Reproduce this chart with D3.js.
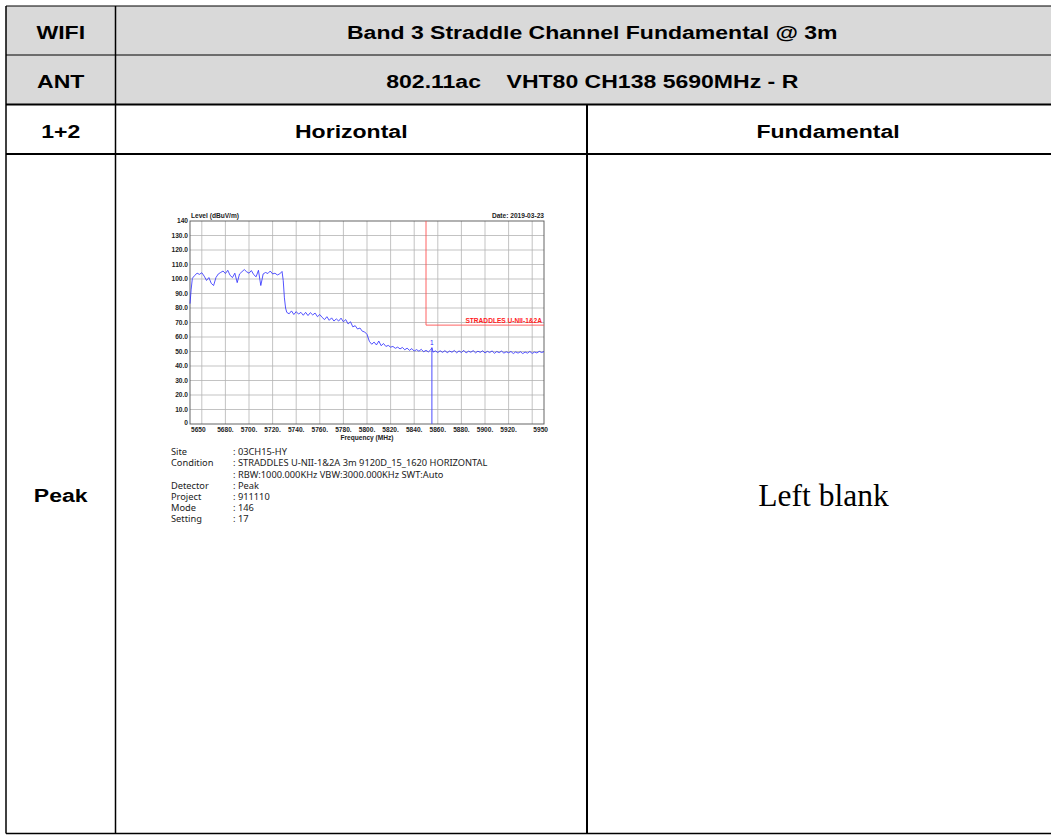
<!DOCTYPE html>
<html>
<head>
<meta charset="utf-8">
<script src="https://cdn.jsdelivr.net/npm/d3@7"></script>
<style>
  body { margin: 0; background: #fff; }
  svg { display: block; }
</style>
</head>
<body>
<div id="page"></div>
<script>
// table content
var headRows = [
  ["WIFI", "Band 3 Straddle Channel Fundamental @ 3m"],
  ["ANT", "802.11ac\u00a0\u00a0\u00a0\u00a0VHT80 CH138 5690MHz - R"]
]
var colHeads = ["1+2", "Horizontal", "Fundamental"]
var rowLabel = "Peak"
var blankText = "Left blank"

// spectrum trace (MHz, dBuV/m)
var freq = [5650, 5651, 5652, 5654, 5656, 5658, 5660, 5662, 5664, 5666, 5668, 5670, 5672, 5674, 5676, 5678,
  5680, 5682, 5684, 5686, 5688, 5690, 5692, 5694, 5696, 5698, 5700, 5702, 5704, 5706, 5708, 5710,
  5712, 5714, 5716, 5718, 5720, 5722, 5724, 5726, 5728, 5729, 5730, 5731, 5732, 5734, 5736, 5738,
  5740, 5742, 5744, 5746, 5748, 5750, 5752, 5754, 5756, 5758, 5760, 5762, 5764, 5766, 5768, 5770,
  5772, 5774, 5776, 5778, 5780, 5782, 5784, 5786, 5788, 5790, 5792, 5794, 5796, 5798, 5800, 5802,
  5804, 5806, 5808, 5810, 5812, 5814, 5816, 5818, 5820, 5822, 5824, 5826, 5828, 5830, 5832, 5834,
  5836, 5838, 5840, 5842, 5844, 5846, 5848, 5850, 5852, 5854, 5855, 5856, 5858, 5860, 5862, 5864,
  5866, 5868, 5870, 5872, 5874, 5876, 5878, 5880, 5882, 5884, 5886, 5888, 5890, 5892, 5894, 5896,
  5898, 5900, 5902, 5904, 5906, 5908, 5910, 5912, 5914, 5916, 5918, 5920, 5922, 5924, 5926, 5928,
  5930, 5932, 5934, 5936, 5938, 5940, 5942, 5944, 5946, 5948, 5950]
var level = [83, 93, 100.5, 102.5, 104, 103.2, 104.3, 102, 99, 101, 97, 95.5, 101, 103.5, 104.5, 105.5,
  103.8, 106, 102.5, 101, 104, 97.5, 103.5, 105, 106.5, 105, 104, 105.8, 103, 101.5, 106, 95.5,
  103.5, 104.5, 103.8, 105.5, 103.5, 104, 102.8, 103.5, 105.2, 99, 87, 80, 77, 76, 78, 75.5,
  77.5, 75.8, 77, 75, 77, 74.8, 76.8, 75.2, 76.5, 74, 75.5, 73.5, 72, 74, 71.5, 73.2,
  71, 72.5, 71, 73, 70.5, 72, 69, 70.5, 67, 67.8, 65.5, 66.2, 64, 63.5, 61.8, 57,
  55, 56.5, 54.5, 57.2, 54, 55.5, 53.5, 54.2, 53, 53.5, 52.2, 53, 51.8, 52.8, 51.2, 52.3,
  50.8, 52, 50.3, 51.3, 50.2, 51.5, 49.8, 50.8, 49.7, 51.2, 52.6, 49.6, 50.4, 49.3, 50.5, 49.4,
  50.6, 49.2, 50.3, 49.5, 50.7, 49.1, 50.4, 49.3, 50.8, 49, 50.2, 49.5, 50.6, 49.1, 50.2, 49.4,
  50.5, 49, 50.1, 49.3, 50.4, 48.8, 50, 49.2, 50.3, 48.9, 49.8, 49.1, 50, 48.6, 49.7, 48.9,
  49.8, 48.6, 49.6, 48.9, 50, 48.7, 49.6, 49, 50.1, 49.3, 49.9]

var yTicks = [10, 20, 30, 40, 50, 60, 70, 80, 90, 100, 110, 120, 130]
var xGrid = [5660, 5680, 5700, 5720, 5740, 5760, 5780, 5800, 5820, 5840, 5860, 5880, 5900, 5920, 5940]
var xLabels = [5680, 5700, 5720, 5740, 5760, 5780, 5800, 5820, 5840, 5860, 5880, 5900, 5920]
var limitFreq = 5850, limitLevel = 68.2
var limitName = "STRADDLES U-NII-1&2A"
var markerFreq = 5855, markerLevel = 52.6

var infoKeys = ["Site", "Condition", "", "Detector", "Project", "Mode", "Setting"]
var infoVals = [": 03CH15-HY", ": STRADDLES U-NII-1&2A 3m 9120D_15_1620 HORIZONTAL",
  ": RBW:1000.000KHz VBW:3000.000KHz SWT:Auto", ": Peak", ": 911110", ": 146", ": 17"]

var W = 1051, H = 835
var svg = d3.select("#page").append("svg").attr("width", W).attr("height", H)

// ---- table ----
var tL = 6, tR = 1067, c1 = 115.5, c2 = 587
var rY = [6, 55, 104.5, 154, 833.5]
var bold = "Arial, 'Liberation Sans', sans-serif"

svg.append("rect").attr("x", tL).attr("y", rY[0]).attr("width", tR - tL).attr("height", rY[2] - rY[0]).attr("fill", "#d9d9d9")

function cell(txt, cx, cy) {
  svg.append("text").attr("class", "cell")
    .attr("transform", "translate(" + cx + "," + cy + ") scale(1.28,1)")
    .text(txt)
}
headRows.forEach(function (r, i) {
  var cy = (rY[i] + rY[i + 1]) / 2 + 2
  cell(r[0], (tL + c1) / 2, cy)
  cell(r[1], (c1 + tR) / 2 + 1, cy)
})
var cy3 = (rY[2] + rY[3]) / 2 + 2
cell(colHeads[0], (tL + c1) / 2, cy3)
cell(colHeads[1], (c1 + c2) / 2, cy3)
cell(colHeads[2], (c2 + tR) / 2 + 1, cy3)
cell(rowLabel, (tL + c1) / 2, 495)
svg.selectAll("text.cell").attr("text-anchor", "middle").attr("dominant-baseline", "central")
  .attr("font-family", bold).attr("font-weight", "bold").attr("font-size", 18).attr("fill", "#000")

svg.append("text").attr("x", 823.5).attr("y", 495).attr("text-anchor", "middle").attr("dominant-baseline", "central")
  .attr("font-family", "'Times New Roman', 'Liberation Serif', serif").attr("font-size", 31.5).text(blankText)

var lines = svg.append("g").attr("stroke", "#000")
lines.append("line").attr("x1", tL).attr("x2", tR).attr("y1", rY[0]).attr("y2", rY[0]).attr("stroke-width", 1.2)
lines.append("line").attr("x1", tL).attr("x2", tR).attr("y1", rY[1]).attr("y2", rY[1]).attr("stroke-width", 1)
lines.append("line").attr("x1", tL).attr("x2", tR).attr("y1", rY[2]).attr("y2", rY[2]).attr("stroke-width", 2)
lines.append("line").attr("x1", tL).attr("x2", tR).attr("y1", rY[3]).attr("y2", rY[3]).attr("stroke-width", 2)
lines.append("line").attr("x1", tL).attr("x2", tR).attr("y1", rY[4]).attr("y2", rY[4]).attr("stroke-width", 1.5)
lines.append("line").attr("x1", tL).attr("x2", tL).attr("y1", rY[0]).attr("y2", rY[4]).attr("stroke-width", 1.5)
lines.append("line").attr("x1", c1).attr("x2", c1).attr("y1", rY[0]).attr("y2", rY[4]).attr("stroke-width", 1.5)
lines.append("line").attr("x1", c2).attr("x2", c2).attr("y1", rY[2]).attr("y2", rY[4]).attr("stroke-width", 2)

// ---- spectrum plot ----
var x = d3.scaleLinear().domain([5650, 5950]).range([190, 544])
var y = d3.scaleLinear().domain([0, 140]).range([424, 221])
var g = svg.append("g")
var small = "Arial, 'Liberation Sans', sans-serif"

g.selectAll(".hg").data(yTicks).join("line")
  .attr("x1", x(5650)).attr("x2", x(5950)).attr("y1", d => y(d)).attr("y2", d => y(d))
  .attr("stroke", "#b4b4b4").attr("stroke-width", 0.8)
g.selectAll(".vg").data(xGrid).join("line")
  .attr("x1", d => x(d)).attr("x2", d => x(d)).attr("y1", y(0)).attr("y2", y(140))
  .attr("stroke", "#b4b4b4").attr("stroke-width", 0.8)
g.append("rect").attr("x", x(5650)).attr("y", y(140)).attr("width", x(5950) - x(5650)).attr("height", y(0) - y(140))
  .attr("fill", "none").attr("stroke", "#555").attr("stroke-width", 0.9)

// limit
g.append("path")
  .attr("d", "M" + x(limitFreq) + "," + y(140) + "V" + y(limitLevel) + "H" + x(5950))
  .attr("fill", "none").attr("stroke", "#ff5050").attr("stroke-width", 0.9)
g.append("text").attr("x", x(5950) - 2).attr("y", y(limitLevel) - 2).attr("text-anchor", "end")
  .attr("font-family", small).attr("font-weight", "bold").attr("font-size", 6.6).attr("fill", "#ff2020").text(limitName)

// trace
var line = d3.line().x((d, i) => x(freq[i])).y(d => y(d))
g.append("path").datum(level).attr("d", line).attr("fill", "none").attr("stroke", "#2828ff").attr("stroke-width", 0.8)
g.append("line").attr("x1", x(markerFreq)).attr("x2", x(markerFreq)).attr("y1", y(markerLevel)).attr("y2", y(0))
  .attr("stroke", "#4a4aff").attr("stroke-width", 1)
g.append("text").attr("x", x(markerFreq)).attr("y", y(markerLevel) - 3).attr("text-anchor", "middle")
  .attr("font-family", small).attr("font-size", 6.5).attr("fill", "#2828ff").text("1")

// axis labels
var tick = g.append("g").attr("font-family", small).attr("font-weight", "bold").attr("font-size", 6.6).attr("fill", "#222")
tick.selectAll(".yl").data(yTicks).join("text")
  .attr("x", 188).attr("y", d => y(d) + 2.3).attr("text-anchor", "end").text(d => d.toFixed(1))
tick.append("text").attr("x", 188).attr("y", y(140) + 2).attr("text-anchor", "end").text("140")
tick.append("text").attr("x", 188).attr("y", y(0) + 1).attr("text-anchor", "end").text("0")
tick.selectAll(".xl").data(xLabels).join("text")
  .attr("x", d => x(d)).attr("y", 432).attr("text-anchor", "middle").text(d => d + ".")
tick.append("text").attr("x", x(5650) + 1).attr("y", 432).text("5650")
tick.append("text").attr("x", x(5950) + 4).attr("y", 432).attr("text-anchor", "end").text("5950")
tick.append("text").attr("x", 367).attr("y", 439.5).attr("text-anchor", "middle").text("Frequency (MHz)")
tick.append("text").attr("x", 191).attr("y", 218).text("Level (dBuV/m)")
tick.append("text").attr("x", 544).attr("y", 218).attr("text-anchor", "end").text("Date: 2019-03-23")

// info block
var info = g.append("g").attr("font-family", "'Comic Sans MS', 'Noto Sans', sans-serif")
  .attr("font-size", 8).attr("fill", "#222")
var infoY = [452.5, 463.7, 474.8, 486, 497.2, 508.3, 519.5]
infoKeys.forEach(function (k, i) {
  var yy = infoY[i] + 2.7
  info.append("text").attr("transform", "translate(171," + yy + ") scale(1.16,1)").text(k)
  info.append("text").attr("transform", "translate(233," + yy + ") scale(1.16,1)").text(infoVals[i])
})
</script>
</body>
</html>
